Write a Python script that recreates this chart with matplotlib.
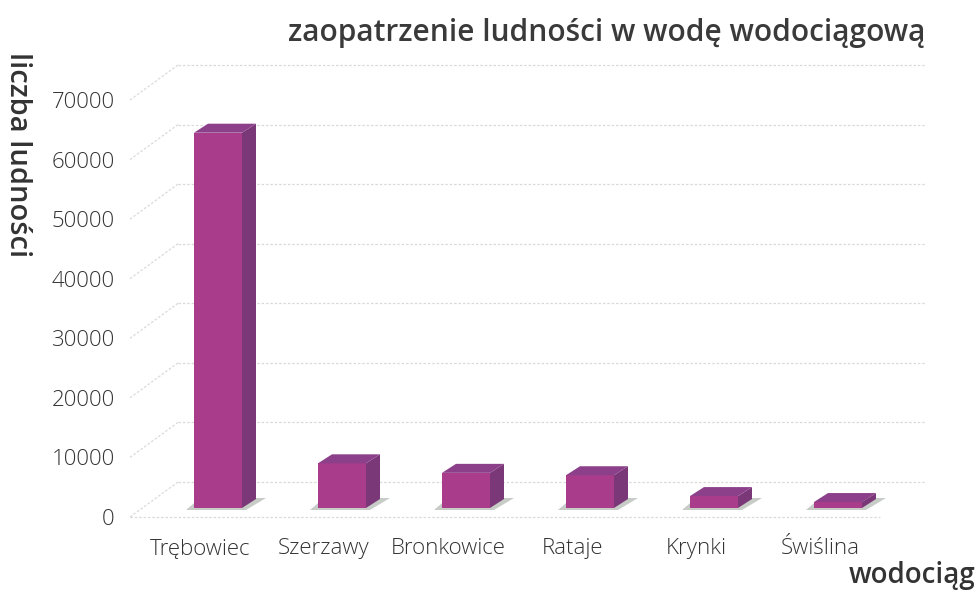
import numpy as np
import matplotlib.pyplot as plt
from matplotlib.patches import Polygon

categories = ['Trębowiec', 'Szerzawy', 'Bronkowice', 'Rataje', 'Krynki', 'Świślina']
population = [63000, 7500, 5900, 5500, 2000, 1000]
yticks = [0, 10000, 20000, 30000, 40000, 50000, 60000, 70000]

title = 'zaopatrzenie ludności w wodę wodociągową'
ylabel = 'liczba ludności'
xlabel = 'wodociąg'

plt.rcParams['font.family'] = ['Open Sans', 'DejaVu Sans']

W, H = 978, 606
fig = plt.figure(figsize=(W / 100, H / 100), dpi=100)
# axes placed in pixels: front plane of the fake 3d box
left, right, bottom, top = 130, 930, 517, 100
ax = fig.add_axes([left / W, 1 - bottom / H, (right - left) / W, (bottom - top) / H])
x0 = -70 / 124
ax.set_xlim(x0, x0 + (right - left) / 124)
ax.set_ylim(0, 70000)
px = 1 / 124               # data units per pixel, x
py = 70000 / (bottom - top)  # data units per pixel, y

# back wall gridlines + side wall diagonals
grid_kw = dict(color='#dadada', lw=0.9, ls=(0, (2, 1.5)), clip_on=False, zorder=0)
wall_dx, wall_dy = 48 * px, 35 * py
for v in yticks:
    ax.plot([x0 + wall_dx, x0 + 795 * px], [v + wall_dy, v + wall_dy], **grid_kw)
    ax.plot([x0, x0 + wall_dx], [v, v + wall_dy], **grid_kw)
ax.plot([x0, x0 + 750 * px], [0, 0], **grid_kw)

# bars with depth
front, side, topc = '#aa3c8c', '#7a3878', '#8c4089'
bw = 48 * px
ddx, ddy = 14 * px, 9 * py
base = 9 * py
xc = np.arange(len(categories)) + 18 * px
ax.bar(xc, population, width=bw, bottom=base, color=front, zorder=3)
for x, v in zip(xc, population):
    xl, xr = x - bw / 2, x + bw / 2
    t = base + v
    ax.add_patch(Polygon([(xl - 8 * px, base - 2 * py), (xr + 4 * px, base - 2 * py),
                          (xr + 24 * px, base + 10 * py), (xl + 6 * px, base + 10 * py)],
                         closed=True, color='#9aa39a', alpha=0.55, lw=0, zorder=2))
    ax.add_patch(Polygon([(xr, base), (xr + ddx, base + ddy), (xr + ddx, t + ddy), (xr, t)],
                         closed=True, color=side, lw=0, zorder=3))
    ax.add_patch(Polygon([(xl, t), (xl + ddx, t + ddy), (xr + ddx, t + ddy), (xr, t)],
                         closed=True, color=topc, lw=0, zorder=3))

tick_font = dict(size=16, weight='light')
ax.set_xticks(range(len(categories)))
ax.set_xticklabels(categories, color='#333333', **tick_font)
ax.set_yticks(yticks)
ax.set_yticklabels([str(v) for v in yticks], color='#333333', **tick_font)
ax.tick_params(axis='x', length=0, pad=15)
ax.tick_params(axis='y', length=0, pad=11)
for s in ax.spines.values():
    s.set_visible(False)

fig.text(607 / W, 1 - 33 / H, title, ha='center', va='center', fontsize=21.5,
         fontweight='semibold', color='#3a3a3a')
fig.text(17 / W, 1 - 155 / H, ylabel, ha='center', va='center', rotation=-90,
         fontsize=21, fontweight='semibold', color='#333333')
fig.text(975 / W, 1 - 576 / H, xlabel, ha='right', va='center', fontsize=20,
         fontweight='semibold', color='#333333')

fig.savefig('out.png', dpi=100, facecolor='white')
